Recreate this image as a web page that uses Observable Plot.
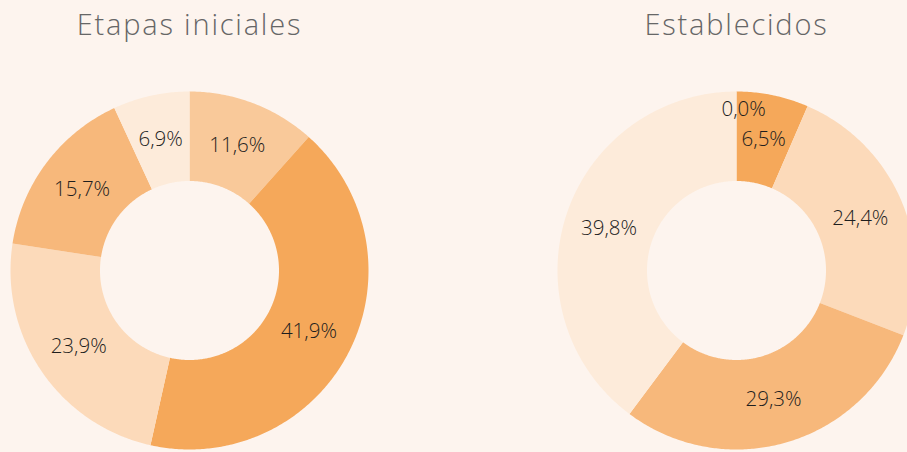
<!DOCTYPE html>
<html>
<head>
<meta charset="utf-8">
<script src="https://cdn.jsdelivr.net/npm/d3@7"></script>
<script src="https://cdn.jsdelivr.net/npm/@observablehq/plot@0.6"></script>
<style>
  html, body { margin: 0; padding: 0; background: #FDF4EE; }
  #chart { width: 907px; height: 452px; overflow: hidden; }
  .ttl text { letter-spacing: 1.8px; }
</style>
</head>
<body>
<div id="chart"></div>
<script>
// ---- data ----
const groups = ["Etapas iniciales", "Establecidos"];
const segments = ["s1", "s2", "s3", "s4", "s5"];
const valuesInicial = [11.6, 41.9, 23.9, 15.7, 6.9];
const valuesEstablecidos = [0.0, 6.5, 24.4, 29.3, 39.8];
const colors = ["#F9C99A", "#F5A85A", "#FCDABA", "#F7B87B", "#FDEBDA"];

// ---- layout (units of outer radius) ----
const R = 179;          // px per unit
const inner = 0.5;
const centers = [0, 547 / R];
const W = 907, H = 452;
const cxPx = 189, cyPx = 270;

const seriesValues = [valuesInicial, valuesEstablecidos];
const polys = [];
const labels = [];
const titles = [];
groups.forEach((g, gi) => {
  const vals = seriesValues[gi];
  const arcs = d3.pie().sort(null).value(d => d)(vals);
  const cx = centers[gi];
  titles.push({x: cx, y: (cyPx - 25) / R, text: g});
  arcs.forEach((a, i) => {
    const key = g + "-" + i;
    const n = Math.max(2, Math.ceil((a.endAngle - a.startAngle) / 0.01));
    const pts = [];
    for (let k = 0; k <= n; k++) {
      const t = a.startAngle + (a.endAngle - a.startAngle) * k / n;
      pts.push({x: cx + Math.sin(t), y: Math.cos(t), key, color: colors[i]});
    }
    for (let k = n; k >= 0; k--) {
      const t = a.startAngle + (a.endAngle - a.startAngle) * k / n;
      pts.push({x: cx + inner * Math.sin(t), y: inner * Math.cos(t), key, color: colors[i]});
    }
    polys.push(...pts);
    const mid = (a.startAngle + a.endAngle) / 2;
    const r = vals[i] === 0 ? 0.9 : (1 + inner) / 2;
    labels.push({
      x: cx + r * Math.sin(mid) + (vals[i] === 0 ? 0.04 : 0),
      y: r * Math.cos(mid),
      text: vals[i].toFixed(1).replace(".", ",") + "%"
    });
  });
});

const chart = Plot.plot({
  width: W,
  height: H,
  margin: 0,
  x: {domain: [-cxPx / R, (W - cxPx) / R], axis: null},
  y: {domain: [-(H - cyPx) / R, cyPx / R], axis: null},
  style: {background: "#FDF4EE", fontFamily: "'Open Sans', 'DejaVu Sans', sans-serif"},
  marks: [
    Plot.line(polys, {x: "x", y: "y", z: "key", fill: d => d.color, stroke: null, curve: "linear"}),
    Plot.text(labels, {x: "x", y: "y", text: "text", fontSize: 20.5, fill: "#1e1e1e", fontWeight: 300}),
    Plot.text(titles, {x: "x", y: "y", text: "text", fontSize: 29, fill: "#666666", fontWeight: 300,
      className: "ttl"})
  ]
});
document.getElementById("chart").appendChild(chart);
</script>
</body>
</html>
